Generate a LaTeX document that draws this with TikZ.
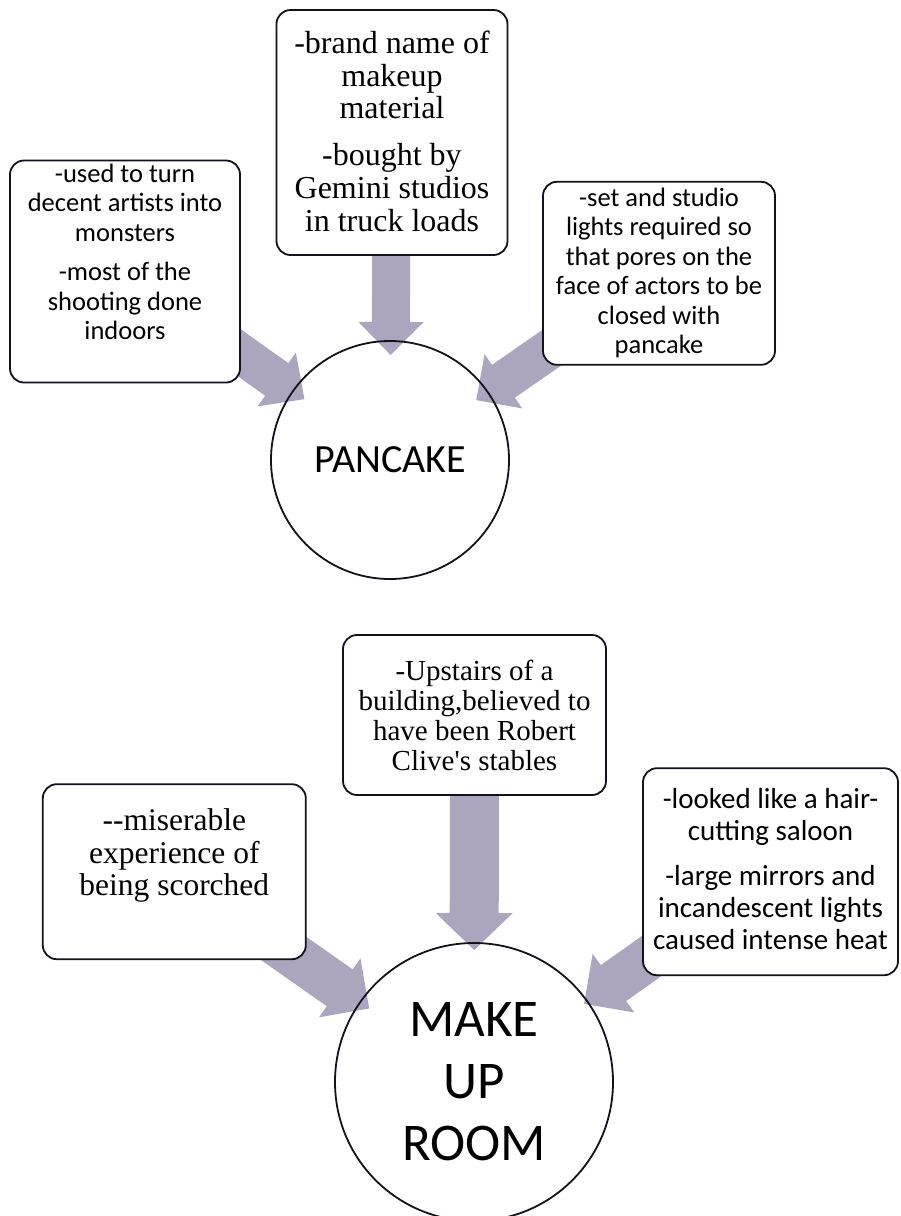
\documentclass[tikz,border=0pt]{standalone}
\usepackage{fontspec}
\newfontfamily\calib{Carlito}
\newfontfamily\tnr{Liberation Serif}
\usetikzlibrary{calc}
\pgfdeclarelayer{behind}
\pgfsetlayers{behind,main}
\definecolor{arrowgray}{RGB}{172,165,190}
\definecolor{inkline}{RGB}{18,18,28}

% broad block arrow: #1 start node, #2 tip coordinate,
% #3 half shaft width, #4 half head width, #5 head length
\newcommand\fatarrow[5]{%
  \coordinate (fa-base) at ($(#2)!#5!(#1)$);
  \fill[arrowgray]
    ($(#1)!#3!90:(#2)$) -- ($(fa-base)!#3!-90:(#1)$) -- ($(fa-base)!#4!-90:(#1)$)
    -- (#2) -- ($(fa-base)!#4!90:(#1)$) -- ($(fa-base)!#3!90:(#1)$)
    -- ($(#1)!#3!-90:(#2)$) -- cycle;}

% box contents: #1 width, #2 height, #3 first baseline from top, #4 font, #5 lines
\newcommand\boxtext[5]{%
  \parbox[c][#2][t]{#1}{\centering #4\rule{0pt}{#3}#5\par}}

\tikzset{
  notebox/.style={draw=inkline, line width=1.8pt, rounded corners=14pt,
    fill=white, inner sep=0pt},
  hub/.style={draw=inkline, line width=1.8pt, circle, inner sep=0pt,
    align=center, font=\calib}
}

\begin{document}
\begin{tikzpicture}[x=1pt, y=-1pt]
\useasboundingbox (0,0) rectangle (900,1216);

% ---- PANCAKE ----
\node[hub, minimum size=238pt, font=\calib\fontsize{40}{48}\selectfont]
  (pc) at (390,460) {PANCAKE};

\node[notebox] (b1) at (125,271.5) {\boxtext{230pt}{222pt}{21.7pt}
  {\calib\fontsize{26.5}{29.5}\selectfont}
  {-used to turn\\decent artists into\\monsters\par\vspace{9.9pt}
   -most of the\\shooting done\\indoors}};

\node[notebox] (b2) at (392,132.5) {\boxtext{231pt}{245pt}{43.3pt}
  {\tnr\fontsize{32}{32.8}\selectfont}
  {-brand name of\\makeup\\material\par\vspace{13.9pt}
   -bought by\\Gemini studios\\in truck loads}};

\node[notebox] (b3) at (659,273.3) {\boxtext{232pt}{183pt}{24.3pt}
  {\calib\fontsize{26.5}{29.5}\selectfont}
  {-set and studio\\lights required so\\that pores on the\\face of actors to be\\closed with\\pancake}};

% ---- MAKE UP ROOM ----
\node[hub, minimum size=278pt, font=\calib\fontsize{53}{62}\selectfont]
  (mr) at (474,1082) {MAKE\\UP\\ROOM};

\node[notebox] (b4) at (174.3,871.7) {\boxtext{263pt}{175pt}{46pt}
  {\tnr\fontsize{31.5}{32.8}\selectfont}
  {-\kern0pt-miserable\\experience of\\being scorched}};

\node[notebox] (b5) at (474.5,715) {\boxtext{263pt}{160pt}{45pt}
  {\tnr\fontsize{29}{30}\selectfont}
  {-Upstairs of a\\building,believed to\\have been Robert\\Clive\char"27 s stables}};

\node[notebox] (b6) at (770.5,871.7) {\boxtext{255pt}{207pt}{40pt}
  {\calib\fontsize{29}{32}\selectfont}
  {-looked like a hair-\\cutting saloon\par\vspace{13.7pt}
   -large mirrors and\\incandescent lights\\caused intense heat}};

% arrow tips just inside the circles
\coordinate (t1) at ($(pc)!105pt!(b1)$);
\coordinate (t2) at ($(pc)!105pt!(b2)$);
\coordinate (t3) at ($(pc)!105pt!(b3)$);
\coordinate (t4) at ($(mr)!128pt!(b4)$);
\coordinate (t5) at ($(mr)!132pt!(b5)$);
\coordinate (t6) at ($(mr)!135pt!(b6)$);

\begin{pgfonlayer}{behind}
  \fill[white] (0,0) rectangle (900,1216);
  \fatarrow{b1}{t1}{20pt}{33pt}{34pt}
  \fatarrow{b2}{t2}{19pt}{32.5pt}{33pt}
  \fatarrow{b3}{t3}{20pt}{33pt}{33pt}
  \fatarrow{b4}{t4}{22.5pt}{36pt}{36pt}
  \fatarrow{b5}{t5}{24.5pt}{38.5pt}{37pt}
  \fatarrow{b6}{t6}{22pt}{36pt}{36pt}
\end{pgfonlayer}
\end{tikzpicture}
\end{document}
